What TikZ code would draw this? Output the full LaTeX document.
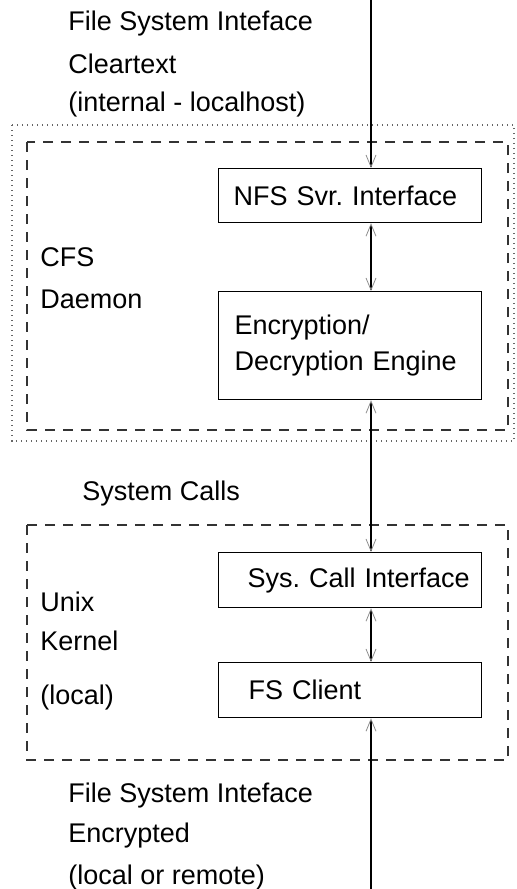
\documentclass[tikz,border=0pt]{standalone}
\usepackage{fontspec}
\setmainfont{Liberation Sans}
\usetikzlibrary{arrows.meta}
\frenchspacing

\begin{document}
\begin{tikzpicture}[
x=0.5pt, y=-0.5pt,
font=\fontsize{13.5}{18}\selectfont,
box/.style={draw, line width=0.6pt, minimum width=131.5pt, anchor=north west, align=left, text width=131.5pt, inner xsep=0pt},
lbl/.style={anchor=base west, inner sep=0pt},
link/.style={line width=0.7pt, black},
gruppe/.style={line width=0.7pt, black!80, dash pattern=on 5pt off 4pt},
rahmen/.style={line width=0.6pt, black!60, dash pattern=on 0.6pt off 1.9pt},
barb/.tip={Straight Barb[length=6pt, width=5pt, line width=0.4pt, color=black!45]},
]

\useasboundingbox (0,0) rectangle (516,889);

%Rahmen
\draw[rahmen] (12,125) rectangle (514,441);
\draw[gruppe] (27,142) rectangle (508,430);
\draw[gruppe] (27,525) rectangle (508,760);

%Kaesten
\node[box, minimum height=27pt] (nfs) at (218,168) {\hspace*{7.5pt}NFS Svr. Interface};
\node[box, minimum height=54pt] (enc) at (218,291) {\hspace*{8pt}Encryption/\\\hspace*{8pt}Decryption Engine};
\node[box, minimum height=27.5pt] (sys) at (218,552) {\hspace*{14.5pt}Sys. Call Interface};
\node[box, minimum height=27.5pt] (fsc) at (218,662) {\hspace*{15pt}FS Client};

%Beschriftungen
\node[lbl] (oben1) at (68,30) {File System Inteface};
\node[lbl] (oben2) at (68,73) {Cleartext};
\node[lbl] (oben3) at (68,111) {(internal - localhost)};
\node[lbl] (cfs1) at (40,266) {CFS};
\node[lbl] (cfs2) at (40,308) {Daemon};
\node[lbl] (calls) at (82,500) {System Calls};
\node[lbl] (unix1) at (40,611) {Unix};
\node[lbl] (unix2) at (40,650) {Kernel};
\node[lbl] (unix3) at (40,704) {(local)};
\node[lbl] (unten1) at (68,802) {File System Inteface};
\node[lbl] (unten2) at (68,842) {Encrypted};
\node[lbl] (unten3) at (68,884) {(local or remote)};

%Verbindungen
\coordinate (rein) at (371,0);
\coordinate (raus) at (371,889);
\draw[link, -barb] (rein) -- (nfs.north -| rein);
\draw[link, barb-barb] (nfs.south -| rein) -- (enc.north -| rein);
\draw[link, barb-barb] (enc.south -| rein) -- (sys.north -| rein);
\draw[link, barb-barb] (sys.south -| rein) -- (fsc.north -| rein);
\draw[link, -barb] (raus) -- (fsc.south -| rein);

\end{tikzpicture}
\end{document}
